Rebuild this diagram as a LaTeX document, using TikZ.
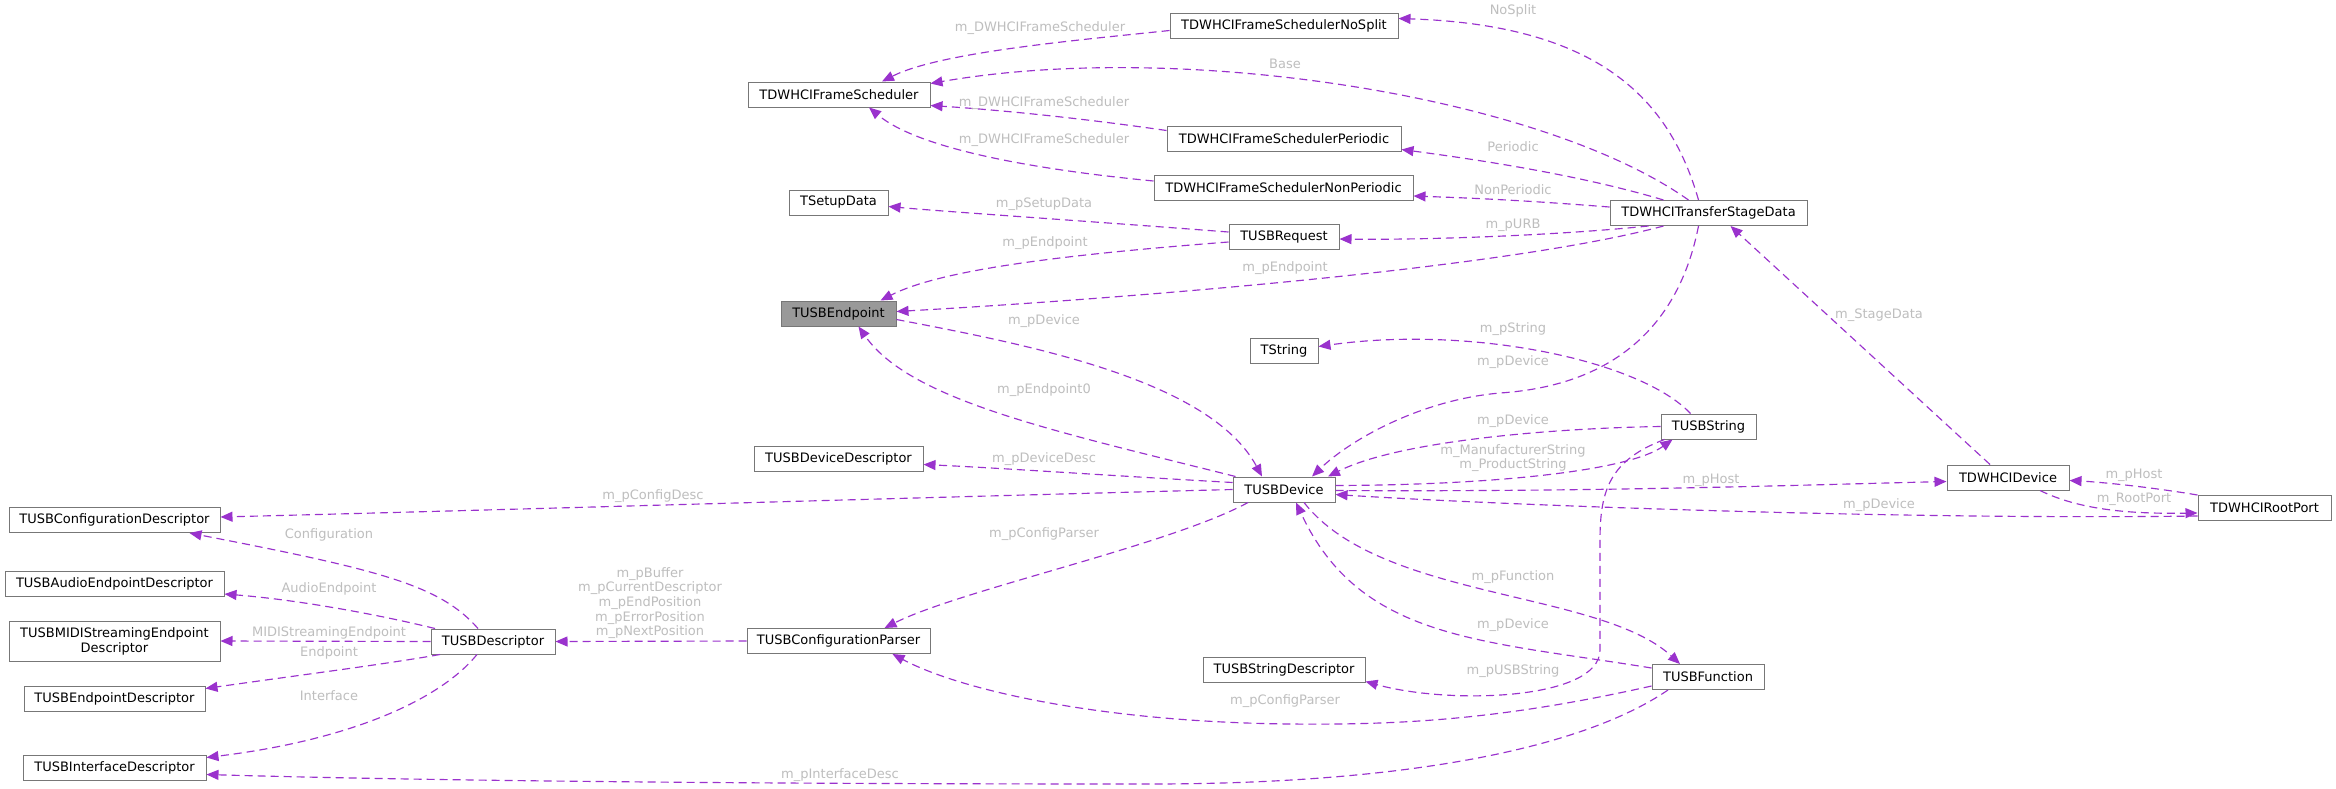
\documentclass[tikz,border=0pt]{standalone}
\usepackage{fontspec}
\setmainfont{DejaVu Sans}
\usetikzlibrary{arrows.meta,calc}
\definecolor{edgec}{HTML}{9A32CD}
\definecolor{lblc}{HTML}{BEBEBE}
\definecolor{boxc}{HTML}{777777}
\definecolor{focusc}{HTML}{999999}
\tikzset{
  cls/.style={draw=boxc, line width=1pt, fill=white, minimum height=25pt, inner sep=0pt, align=center, font=\fontsize{13}{15}\selectfont},
  focus/.style={cls, fill=focusc},
  rel/.style={draw=edgec, line width=1.15pt, dash pattern=on 8pt off 5pt, -{Triangle[length=12pt,width=10pt]}},
  lbl/.style={text=lblc, inner sep=0pt, align=center, font=\fontsize{13}{14.7}\selectfont}
}
\begin{document}
\begin{tikzpicture}[x=1pt,y=-1pt]
\fill[white] (0,0) rectangle (2336,788);
\useasboundingbox (0,0) rectangle (2336,788);
% nodes
\node[cls, minimum width=228pt] (nosplit) at (1284,25.5) {TDWHCIFrameSchedulerNoSplit};
\node[cls, minimum width=182pt] (fs) at (839,94.5) {TDWHCIFrameScheduler};
\node[cls, minimum width=234pt] (periodic) at (1284,138.5) {TDWHCIFrameSchedulerPeriodic};
\node[cls, minimum width=259pt] (nonper) at (1283.5,188) {TDWHCIFrameSchedulerNonPeriodic};
\node[cls, minimum width=99pt] (setup) at (838.5,202.5) {TSetupData};
\node[cls, minimum width=110pt] (request) at (1284,237) {TUSBRequest};
\node[focus, minimum width=115pt] (endpoint) at (838.5,313.5) {TUSBEndpoint};
\node[cls, minimum width=68pt] (tstring) at (1284,350.5) {TString};
\node[cls, minimum width=197pt] (tsd) at (1708.5,213) {TDWHCITransferStageData};
\node[cls, minimum width=211pt] (confdesc) at (114.5,520) {TUSBConfigurationDescriptor};
\node[cls, minimum width=219pt] (audio) at (114.5,584) {TUSBAudioEndpointDescriptor};
\node[cls, minimum width=211pt, minimum height=40pt] (midi) at (114.5,641) {TUSBMIDIStreamingEndpoint\\Descriptor};
\node[cls, minimum width=181pt] (epdesc) at (114.5,698.5) {TUSBEndpointDescriptor};
\node[cls, minimum width=183pt] (ifdesc) at (114.5,767.5) {TUSBInterfaceDescriptor};
\node[cls, minimum width=124pt] (desc) at (493,641.5) {TUSBDescriptor};
\node[cls, minimum width=169pt] (devdesc) at (838.5,458.5) {TUSBDeviceDescriptor};
\node[cls, minimum width=102pt] (device) at (1284,489.5) {TUSBDevice};
\node[cls, minimum width=183pt] (parser) at (838.5,641) {TUSBConfigurationParser};
\node[cls, minimum width=162pt] (strdesc) at (1284,669.5) {TUSBStringDescriptor};
\node[cls, minimum width=95pt] (usbstring) at (1708.5,426.5) {TUSBString};
\node[cls, minimum width=122pt] (dwdev) at (2008,477.5) {TDWHCIDevice};
\node[cls, minimum width=133pt] (rootport) at (2264.5,508) {TDWHCIRootPort};
\node[cls, minimum width=112pt] (function) at (1708,677) {TUSBFunction};
% edges
\draw[rel] ([yshift=-5pt]nosplit.west) .. controls (1080,40) and (940,52) .. ([xshift=43pt]fs.north);
\draw[rel] ([xshift=-10pt]tsd.north) .. controls (1670,100) and (1600,25) .. ([yshift=7pt]nosplit.east);
\draw[rel] ([xshift=-20pt]tsd.north) .. controls (1540,95) and (1180,40) .. ([yshift=11pt]fs.east);
\draw[rel] ([yshift=8pt]periodic.west) .. controls (1080,118) and (1000,110) .. ([yshift=-11pt]fs.east);
\draw[rel] ([yshift=7pt]nonper.west) .. controls (1040,170) and (920,150) .. ([xshift=30pt]fs.south);
\draw[rel] ([xshift=-45pt]tsd.north) .. controls (1580,175) and (1480,160) .. ([yshift=-11pt]periodic.east);
\draw[rel] ([yshift=6pt]tsd.west) .. controls (1520,200) and (1470,198) .. ([yshift=-8pt]nonper.east);
\draw[rel] ([yshift=5pt]request.west) .. controls (1100,222) and (950,212) .. ([yshift=-4pt]setup.east);
\draw[rel] ([xshift=-60pt]tsd.south) .. controls (1550,236) and (1420,240) .. ([yshift=-2pt]request.east);
\draw[rel] ([yshift=-5pt]request.west) .. controls (1060,255) and (940,270) .. ([xshift=42pt]endpoint.north);
\draw[rel] ([xshift=-45pt]tsd.south) .. controls (1500,270) and (1100,300) .. ([yshift=2pt]endpoint.east);
\draw[rel] ([yshift=-6pt]endpoint.east) .. controls (1030,345) and (1210,380) .. ([xshift=-22pt]device.north);
\draw[rel] ([xshift=3pt]device.north west) .. controls (1050,430) and (910,400) .. ([xshift=20pt]endpoint.south);
\draw[rel] ([xshift=-18pt]usbstring.north) .. controls (1640,360) and (1470,325) .. ([yshift=4pt]tstring.east);
\draw[rel] ([xshift=-10pt]tsd.south) .. controls (1680,320) and (1620,385) .. (1500,393) .. controls (1420,400) and (1350,440) .. ([xshift=28pt]device.north);
\draw[rel] (usbstring.west) .. controls (1560,428) and (1400,440) .. ([xshift=44pt]device.north);
\draw[rel] ([yshift=4pt]device.east) .. controls (1500,485) and (1630,470) .. ([xshift=-36pt]usbstring.south);
\draw[rel] ([yshift=7pt]device.west) .. controls (1100,475) and (1000,468) .. ([yshift=-6pt]devdesc.east);
\draw[rel] (device.west) .. controls (900,498) and (500,510) .. ([yshift=3pt]confdesc.east);
\draw[rel] ([yshift=-1pt]device.east) .. controls (1600,492) and (1800,485) .. ([yshift=-4pt]dwdev.west);
\draw[rel] ([yshift=-8pt]rootport.west) .. controls (1900,520) and (1500,505) .. ([yshift=-5pt]device.east);
\draw[rel] (rootport.north west) .. controls (2150,487) and (2100,482) .. ([yshift=-3pt]dwdev.east);
\draw[rel] ([xshift=32pt]dwdev.south) .. controls (2080,510) and (2130,514) .. ([yshift=-5pt]rootport.west);
\draw[rel] ([xshift=-18pt]dwdev.north) -- ([xshift=22pt]tsd.south);
\draw[rel] ([xshift=-36pt]device.south) .. controls (1170,545) and (960,590) .. ([xshift=46pt]parser.north);
\draw[rel] ([xshift=20pt]device.south) .. controls (1380,600) and (1600,590) .. ([xshift=-28pt]function.north);
\draw[rel] ([yshift=9pt]function.west) .. controls (1480,640) and (1360,640) .. ([xshift=12pt]device.south);
\draw[rel] (parser.west) -- (desc.east);
\draw[rel] ([xshift=-15pt]desc.north) .. controls (440,585) and (380,570) .. ([xshift=75pt]confdesc.south);
\draw[rel] ([xshift=-58pt]desc.north) .. controls (380,615) and (300,600) .. ([yshift=-10pt]audio.east);
\draw[rel] (desc.west) -- (midi.east);
\draw[rel] ([xshift=-53pt]desc.south) .. controls (380,665) and (300,675) .. ([yshift=10pt]epdesc.east);
\draw[rel] ([xshift=-16pt]desc.south) .. controls (440,700) and (350,740) .. ([yshift=10pt]ifdesc.east);
\draw[rel] ([xshift=-40pt]function.south) .. controls (1580,750) and (1400,784) .. (1150,784) .. controls (700,784) and (400,780) .. ([yshift=-7pt]ifdesc.east);
\draw[rel] ([yshift=-9pt]function.west) .. controls (1500,720) and (1400,725) .. (1290,724) .. controls (1100,722) and (960,690) .. ([xshift=54pt]parser.south);
\draw[rel] ([xshift=-44pt]usbstring.south) .. controls (1610,460) and (1600,490) .. (1600,540) -- (1600,650) .. controls (1600,700) and (1450,705) .. ([yshift=-12pt]strdesc.east);
% labels
\node[lbl] (l1) at (1040,28) {m\_DWHCIFrameScheduler};
\node[lbl] (l2) at (1513,11) {NoSplit};
\node[lbl] (l3) at (1285,64) {Base};
\node[lbl] (l4) at (1044,103) {m\_DWHCIFrameScheduler};
\node[lbl] (l5) at (1044,140) {m\_DWHCIFrameScheduler};
\node[lbl] (l6) at (1513,147) {Periodic};
\node[lbl] (l7) at (1513,190) {NonPeriodic};
\node[lbl] (l8) at (1044,204) {m\_pSetupData};
\node[lbl] (l9) at (1513,225) {m\_pURB};
\node[lbl] (l10) at (1045,243) {m\_pEndpoint};
\node[lbl] (l11) at (1285,268) {m\_pEndpoint};
\node[lbl] (l12) at (1044,321) {m\_pDevice};
\node[lbl] (l13) at (1044,390) {m\_pEndpoint0};
\node[lbl] (l14) at (1513,329) {m\_pString};
\node[lbl] (l15) at (1513,362) {m\_pDevice};
\node[lbl] (l16) at (1513,421) {m\_pDevice};
\node[lbl] (l17) at (1513,458) {m\_ManufacturerString\\m\_ProductString};
\node[lbl] (l18) at (1044,459) {m\_pDeviceDesc};
\node[lbl] (l19) at (653,496) {m\_pConfigDesc};
\node[lbl] (l20) at (1711,480) {m\_pHost};
\node[lbl] (l21) at (1879,505) {m\_pDevice};
\node[lbl] (l22) at (2134,475) {m\_pHost};
\node[lbl] (l23) at (2134,499) {m\_RootPort};
\node[lbl] (l24) at (1879,315) {m\_StageData};
\node[lbl] (l25) at (1044,534) {m\_pConfigParser};
\node[lbl] (l26) at (1513,577) {m\_pFunction};
\node[lbl] (l27) at (1513,625) {m\_pDevice};
\node[lbl] (l28) at (650,603) {m\_pBuffer\\m\_pCurrentDescriptor\\m\_pEndPosition\\m\_pErrorPosition\\m\_pNextPosition};
\node[lbl] (l29) at (329,535) {Configuration};
\node[lbl] (l30) at (329,589) {AudioEndpoint};
\node[lbl] (l31) at (329,633) {MIDIStreamingEndpoint};
\node[lbl] (l32) at (329,653) {Endpoint};
\node[lbl] (l33) at (329,696) {Interface};
\node[lbl] (l34) at (840,775) {m\_pInterfaceDesc};
\node[lbl] (l35) at (1285,701) {m\_pConfigParser};
\node[lbl] (l36) at (1513,671) {m\_pUSBString};
\end{tikzpicture}
\end{document}
